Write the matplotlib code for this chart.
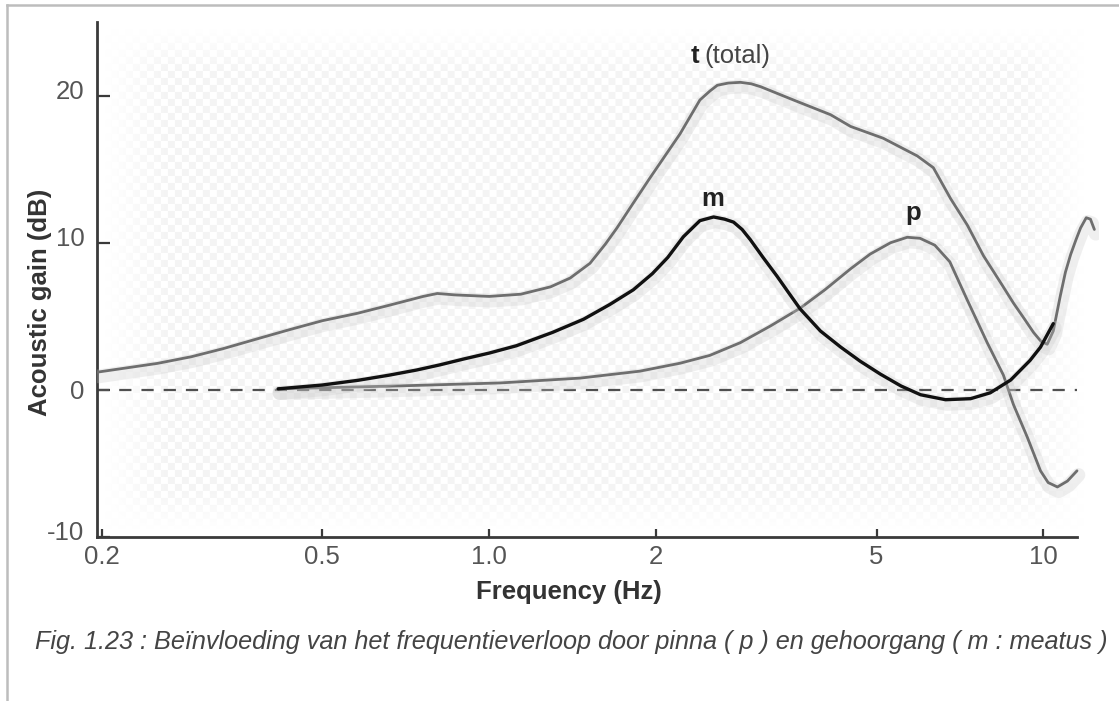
import numpy as np
import matplotlib
matplotlib.use("Agg")
import matplotlib.pyplot as plt
import matplotlib.patheffects as pe
import matplotlib.transforms as mtrans
from matplotlib.lines import Line2D

plt.rcParams['font.family'] = ['Liberation Sans', 'DejaVu Sans']

# ---- data ----
t_freq = [0.196, 0.252, 0.29, 0.331, 0.38, 0.437, 0.50, 0.578, 0.66, 0.76, 0.806, 0.87,
          1.0, 1.14, 1.29, 1.40, 1.52, 1.62, 1.70, 1.82, 1.95, 2.21, 2.40, 2.50, 2.58,
          2.70, 2.84, 2.97, 3.09, 3.54, 4.13, 4.49, 5.14, 5.92, 6.33, 6.8, 7.29, 7.8,
          8.4, 8.83, 9.25, 9.6, 9.9, 10.16, 10.42, 10.73, 10.96, 11.2, 11.45, 11.67,
          11.95, 12.16, 12.36]
t_gain = [1.2, 1.8, 2.25, 2.8, 3.45, 4.1, 4.7, 5.2, 5.75, 6.35, 6.55, 6.45,
          6.35, 6.5, 7.0, 7.6, 8.6, 9.9, 11.0, 12.7, 14.4, 17.4, 19.7, 20.3, 20.7,
          20.85, 20.9, 20.8, 20.6, 19.7, 18.7, 17.9, 17.1, 15.9, 15.1, 13.0, 11.2, 9.1,
          7.2, 5.9, 4.8, 3.9, 3.3, 3.1, 4.0, 6.4, 8.0, 9.2, 10.2, 11.0,
          11.7, 11.6, 10.9]

m_freq = [0.416, 0.50, 0.58, 0.66, 0.74, 0.815, 0.9, 1.0, 1.12, 1.3, 1.48, 1.65, 1.82,
          1.97, 2.10, 2.24, 2.40, 2.54, 2.66, 2.76, 2.86, 2.96, 3.12, 3.31, 3.47, 3.64,
          3.96, 4.31, 4.67, 5.08, 5.53, 6.0, 6.66, 7.39, 8.02, 8.73, 9.46, 9.88, 10.42]
m_gain = [0.07, 0.33, 0.65, 1.0, 1.35, 1.7, 2.1, 2.5, 3.0, 3.9, 4.8, 5.8, 6.8,
          7.9, 9.0, 10.4, 11.5, 11.75, 11.6, 11.4, 10.9, 10.2, 9.0, 7.7, 6.6, 5.5,
          4.0, 2.9, 1.95, 1.07, 0.27, -0.33, -0.67, -0.6, -0.2, 0.67, 2.0, 2.9, 4.5]

p_freq = [0.416, 0.69, 1.047, 1.46, 1.87, 2.21, 2.50, 2.84, 3.22, 3.64, 4.04, 4.49,
          4.87, 5.30, 5.68, 5.99, 6.37, 6.78, 7.29, 7.92, 8.47, 8.83, 9.35, 9.88,
          10.2, 10.6, 11.05, 11.5]
p_gain = [0.07, 0.27, 0.47, 0.80, 1.27, 1.81, 2.34, 3.21, 4.35, 5.55, 6.82, 8.23,
          9.23, 10.0, 10.37, 10.3, 9.83, 8.7, 6.1, 3.2, 1.0, -1.0, -3.2, -5.5,
          -6.3, -6.6, -6.2, -5.5]

x_ticks = [0.2, 0.5, 1.0, 2, 5, 10]
x_tick_labels = ["0.2", "0.5", "1.0", "2", "5", "10"]
y_ticks = [-10, 0, 10, 20]
y_tick_labels = ["-10", "0", "10", "20"]

caption = ("Fig. 1.23 : Beïnvloeding van het frequentieverloop door pinna ( p ) "
           "en gehoorgang ( m : meatus )")

# ---- figure ----
W, H = 1119, 701
fig = plt.figure(figsize=(W / 100, H / 100), dpi=100)
fig.patch.set_facecolor('white')

ax_l, ax_r, ax_t, ax_b = 97, 1099, 22, 537
ax = fig.add_axes([ax_l / W, 1 - ax_b / H, (ax_r - ax_l) / W, (ax_b - ax_t) / H])
ax.set_facecolor('white')
ax.set_xscale('log')
ax.set_xlim(0.196, 12.6)
ax.set_ylim(-10, 25)

# faint checker background texture
ny, nx = 500, 980
yy, xx = np.mgrid[0:ny, 0:nx]
checker = ((xx // 7 + yy // 7) % 2).astype(float)
fx = np.clip(np.minimum(xx, nx - xx) / 60.0, 0, 1)
fy = np.clip(np.minimum(yy, ny - yy) / 40.0, 0, 1)
fade = fx * fy
shade = 1 - 0.04 * checker * fade
img = np.dstack([shade, shade, shade])
ax.imshow(img, extent=(0.008, 0.985, 0.015, 0.985), transform=ax.transAxes,
          aspect='auto', interpolation='bilinear', zorder=0)

# zero dashed line
ax.axhline(0, color='#505050', lw=1.6, dashes=(5.5, 4.5), zorder=2, xmax=0.978)

shadow = [pe.SimpleLineShadow(offset=(1, -3), shadow_color='#c8c8c8', alpha=0.28,
                              linewidth=10), pe.Normal()]
ax.plot(t_freq, t_gain, color='#6e6e6e', lw=2.0, zorder=3, path_effects=shadow,
        solid_capstyle='round', solid_joinstyle='round')
ax.plot(p_freq, p_gain, color='#6e6e6e', lw=2.0, zorder=3, path_effects=shadow,
        solid_capstyle='round', solid_joinstyle='round')
ax.plot(m_freq, m_gain, color='#111111', lw=2.4, zorder=4, path_effects=shadow,
        solid_capstyle='round', solid_joinstyle='round')

FS = 18.5
# curve labels
ax.text(2.35, 22.7, "t", fontsize=FS, fontweight='bold', color='#222222',
        ha='center', va='center')
ax.text(2.45, 22.7, "(total)", fontsize=FS, color='#444444', ha='left', va='center')
ax.text(2.53, 13.0, "m", fontsize=FS, fontweight='bold', color='#222222',
        ha='center', va='center')
ax.text(5.81, 12.0, "p", fontsize=FS, fontweight='bold', color='#222222',
        ha='center', va='center')

# spines / ticks
for s in ['top', 'right']:
    ax.spines[s].set_visible(False)
for s in ['left', 'bottom']:
    ax.spines[s].set_color('#3a3a3a')
    ax.spines[s].set_linewidth(2.0)
ax.spines['bottom'].set_bounds(0.196, 11.5)

ax.set_xticks(x_ticks)
ax.set_xticklabels(x_tick_labels)
ax.xaxis.set_minor_locator(matplotlib.ticker.NullLocator())
ax.set_yticks(y_ticks)
ax.set_yticklabels(y_tick_labels)
ax.tick_params(axis='both', direction='in', colors='#3a3a3a', labelcolor='#555555',
               labelsize=FS, width=1.6)
ax.tick_params(axis='x', length=6, pad=6)
ax.tick_params(axis='y', length=9, pad=9)

# nudge y tick labels slightly upward like the reference (except the 0 label)
for tk, lab in zip(ax.yaxis.get_major_ticks(), y_tick_labels):
    if lab != "0":
        tk.label1.set_transform(tk.label1.get_transform() +
                                mtrans.ScaledTranslation(0, 6 / 100, fig.dpi_scale_trans))

ax.set_xlabel("Frequency (Hz)", fontsize=FS, fontweight='bold', color='#333333')
ax.xaxis.set_label_coords((569 - ax_l) / (ax_r - ax_l), -(592 - ax_b) / (ax_b - ax_t))
ax.set_ylabel("Acoustic gain (dB)", fontsize=FS, fontweight='bold', color='#333333')
ax.yaxis.set_label_coords(-(97 - 40) / (ax_r - ax_l), (ax_b - 302) / (ax_b - ax_t))
ax.xaxis.label.set_va('center')
ax.yaxis.label.set_va('center')

# caption
fig.text(35 / W, 1 - 642 / H, caption, fontsize=18.2, style='italic', color='#444444',
         ha='left', va='center')

# outer frame lines
fig.add_artist(Line2D([7 / W, 7 / W], [0, 1 - 5 / H], transform=fig.transFigure,
                      color='#bdbdbd', lw=1.8))
fig.add_artist(Line2D([7 / W, 1], [1 - 5 / H, 1 - 5 / H], transform=fig.transFigure,
                      color='#bdbdbd', lw=1.8))

fig.savefig("out.png", dpi=100, facecolor='white')
